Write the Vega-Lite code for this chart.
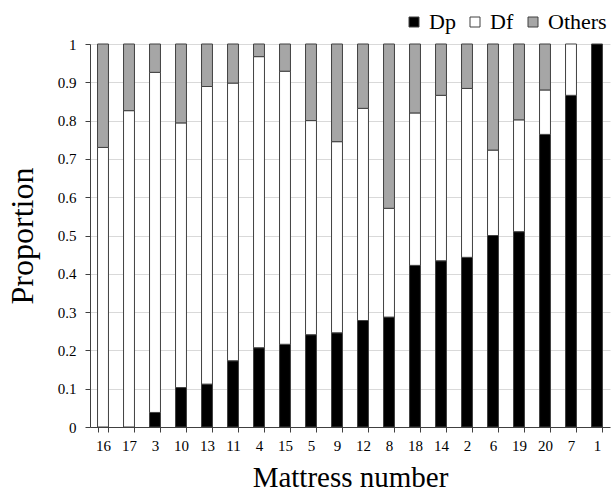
{
  "$schema": "https://vega.github.io/schema/vega-lite/v6.json",
  "width": 520,
  "height": 383,
  "autosize": "none",
  "padding": {"left": 90, "top": 44, "right": 2, "bottom": 65},
  "background": "white",
  "config": {
    "font": "Liberation Serif",
    "axis": {"labelFont": "Liberation Serif", "titleFont": "Liberation Serif"},
    "legend": {"labelFont": "Liberation Serif", "titleFont": "Liberation Serif"},
    "view": {"stroke": null}
  },
  "data": {
    "values": [
      {"m": "16", "t": "Df", "v": 0.73, "o": 2},
      {"m": "16", "t": "Others", "v": 0.27, "o": 3},
      {"m": "17", "t": "Df", "v": 0.826, "o": 2},
      {"m": "17", "t": "Others", "v": 0.174, "o": 3},
      {"m": "3", "t": "Dp", "v": 0.038, "o": 1},
      {"m": "3", "t": "Df", "v": 0.888, "o": 2},
      {"m": "3", "t": "Others", "v": 0.074, "o": 3},
      {"m": "10", "t": "Dp", "v": 0.103, "o": 1},
      {"m": "10", "t": "Df", "v": 0.691, "o": 2},
      {"m": "10", "t": "Others", "v": 0.206, "o": 3},
      {"m": "13", "t": "Dp", "v": 0.112, "o": 1},
      {"m": "13", "t": "Df", "v": 0.777, "o": 2},
      {"m": "13", "t": "Others", "v": 0.111, "o": 3},
      {"m": "11", "t": "Dp", "v": 0.173, "o": 1},
      {"m": "11", "t": "Df", "v": 0.725, "o": 2},
      {"m": "11", "t": "Others", "v": 0.102, "o": 3},
      {"m": "4", "t": "Dp", "v": 0.207, "o": 1},
      {"m": "4", "t": "Df", "v": 0.76, "o": 2},
      {"m": "4", "t": "Others", "v": 0.033, "o": 3},
      {"m": "15", "t": "Dp", "v": 0.216, "o": 1},
      {"m": "15", "t": "Df", "v": 0.713, "o": 2},
      {"m": "15", "t": "Others", "v": 0.071, "o": 3},
      {"m": "5", "t": "Dp", "v": 0.241, "o": 1},
      {"m": "5", "t": "Df", "v": 0.559, "o": 2},
      {"m": "5", "t": "Others", "v": 0.2, "o": 3},
      {"m": "9", "t": "Dp", "v": 0.246, "o": 1},
      {"m": "9", "t": "Df", "v": 0.499, "o": 2},
      {"m": "9", "t": "Others", "v": 0.255, "o": 3},
      {"m": "12", "t": "Dp", "v": 0.278, "o": 1},
      {"m": "12", "t": "Df", "v": 0.554, "o": 2},
      {"m": "12", "t": "Others", "v": 0.168, "o": 3},
      {"m": "8", "t": "Dp", "v": 0.287, "o": 1},
      {"m": "8", "t": "Df", "v": 0.284, "o": 2},
      {"m": "8", "t": "Others", "v": 0.429, "o": 3},
      {"m": "18", "t": "Dp", "v": 0.422, "o": 1},
      {"m": "18", "t": "Df", "v": 0.398, "o": 2},
      {"m": "18", "t": "Others", "v": 0.18, "o": 3},
      {"m": "14", "t": "Dp", "v": 0.434, "o": 1},
      {"m": "14", "t": "Df", "v": 0.432, "o": 2},
      {"m": "14", "t": "Others", "v": 0.134, "o": 3},
      {"m": "2", "t": "Dp", "v": 0.443, "o": 1},
      {"m": "2", "t": "Df", "v": 0.441, "o": 2},
      {"m": "2", "t": "Others", "v": 0.116, "o": 3},
      {"m": "6", "t": "Dp", "v": 0.5, "o": 1},
      {"m": "6", "t": "Df", "v": 0.223, "o": 2},
      {"m": "6", "t": "Others", "v": 0.277, "o": 3},
      {"m": "19", "t": "Dp", "v": 0.51, "o": 1},
      {"m": "19", "t": "Df", "v": 0.292, "o": 2},
      {"m": "19", "t": "Others", "v": 0.198, "o": 3},
      {"m": "20", "t": "Dp", "v": 0.764, "o": 1},
      {"m": "20", "t": "Df", "v": 0.116, "o": 2},
      {"m": "20", "t": "Others", "v": 0.12, "o": 3},
      {"m": "7", "t": "Dp", "v": 0.866, "o": 1},
      {"m": "7", "t": "Df", "v": 0.134, "o": 2},
      {"m": "1", "t": "Dp", "v": 1.0, "o": 1}
    ]
  },
  "mark": {"type": "bar", "stroke": "#404040", "strokeWidth": 1},
  "encoding": {
    "x": {
      "field": "m",
      "type": "nominal",
      "sort": ["16","17","3","10","13","11","4","15","5","9","12","8","18","14","2","6","19","20","7","1"],
      "scale": {"paddingInner": 0.58, "paddingOuter": 0.29},
      "axis": {
        "title": "Mattress number",
        "titleFontSize": 29,
        "titleFontWeight": "normal",
        "titleColor": "black",
        "titlePadding": 10,
        "labelAngle": 0,
        "labelFontSize": 15,
        "labelColor": "black",
        "labelPadding": 6,
        "bandPosition": 0,
        "tickBand": "extent",
        "tickColor": "#404040",
        "tickSize": 5,
        "domainColor": "#404040",
        "grid": false
      }
    },
    "y": {
      "field": "v",
      "type": "quantitative",
      "stack": "zero",
      "scale": {"domain": [0, 1], "nice": false},
      "axis": {
        "title": "Proportion",
        "titleFontSize": 32,
        "titleFontWeight": "normal",
        "titleColor": "black",
        "titlePadding": 18,
        "values": [0,0.1,0.2,0.3,0.4,0.5,0.6,0.7,0.8,0.9,1],
        "format": "~g",
        "labelFontSize": 15,
        "labelColor": "black",
        "labelPadding": 9,
        "tickColor": "#404040",
        "tickSize": 5,
        "domainColor": "#404040",
        "gridColor": "#d9d9d9",
        "grid": true
      }
    },
    "color": {
      "field": "t",
      "type": "nominal",
      "scale": {"domain": ["Dp","Df","Others"], "range": ["black","white","#a6a6a6"]},
      "legend": {
        "title": null,
        "orient": "none",
        "direction": "horizontal",
        "legendX": 313,
        "legendY": -33,
        "labelFontSize": 22,
        "labelColor": "black",
        "symbolType": "square",
        "symbolSize": 100,
        "symbolStrokeColor": "#404040",
        "symbolStrokeWidth": 1,
        "columnPadding": 8,
        "labelOffset": 4
      }
    },
    "order": {"field": "o", "type": "quantitative"}
  }
}
